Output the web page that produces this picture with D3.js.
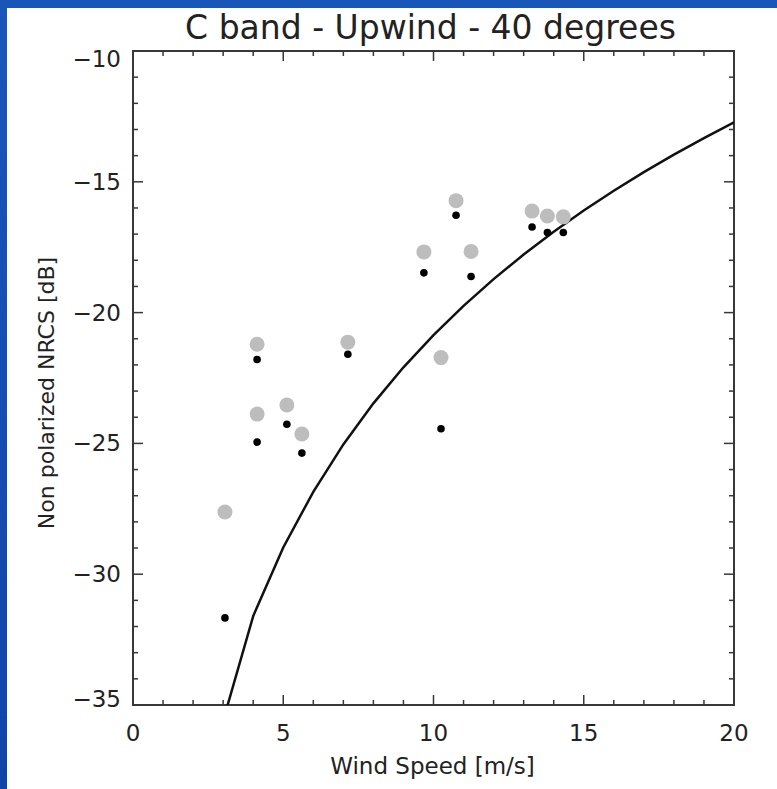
<!DOCTYPE html>
<html><head><meta charset="utf-8">
<script src="https://cdn.jsdelivr.net/npm/d3@7"></script>
<style>
html,body{margin:0;padding:0;background:#fff;}
svg{display:block;}
text{font-family:"DejaVu Sans",sans-serif;fill:#222;}
</style></head><body>
<svg id="c" width="777" height="789"></svg>
<script>
const title = "C band - Upwind - 40 degrees";
const xLabel = "Wind Speed [m/s]";
const yLabel = "Non polarized NRCS [dB]";
const xTicks = [0, 5, 10, 15, 20];
const yTicks = [-10, -15, -20, -25, -30, -35];
// measurements: wind speed, gray (large) value, black (small) value
const windSpeed = [3.06, 4.13, 4.13, 5.12, 5.62, 7.15, 9.68, 10.25, 10.75, 11.25, 13.28, 13.79, 14.32];
const grayNRCS  = [-27.62, -21.21, -23.88, -23.53, -24.64, -21.13, -17.68, -21.72, -15.72, -17.66, -16.12, -16.31, -16.34];
const blackNRCS = [-31.67, -21.79, -24.95, -24.27, -25.37, -21.59, -18.48, -24.44, -16.28, -18.62, -16.73, -16.94, -16.94];
// model curve
const modelSpeed = [3, 4, 5, 6, 7, 8, 9, 10, 11, 12, 13, 14, 15, 16, 17, 18, 19, 20];
const modelNRCS  = [-35.6, -31.6, -28.98, -26.85, -25.04, -23.47, -22.09, -20.86, -19.74, -18.72, -17.78, -16.91, -16.10, -15.34, -14.63, -13.96, -13.33, -12.73];

const svg = d3.select("#c");
const grad = svg.append("defs").append("linearGradient").attr("id","bg").attr("x1",0).attr("y1",0).attr("x2",0).attr("y2",1);
grad.append("stop").attr("offset","0%").attr("stop-color","#1a56b8");
grad.append("stop").attr("offset","100%").attr("stop-color","#1244a8");
svg.append("rect").attr("x",0).attr("y",0).attr("width",777).attr("height",789).attr("fill","url(#bg)");
svg.append("rect").attr("x",7).attr("y",8).attr("width",770).attr("height",781).attr("fill","#fff");

const L = 133, R = 734, T = 51, B = 705;
const x = d3.scaleLinear().domain([0, 20]).range([L, R]);
const y = d3.scaleLinear().domain([-35, -10]).range([B, T]);

const frameColor = "#383838";
const g = svg.append("g");

const xMinor = d3.range(0, 21, 1);
const yMinor = d3.range(-35, -9, 1);
function tickLen(v, step){ return (Math.abs(v % step) < 1e-9) ? 10 : 5; }
g.selectAll(".xtb").data(xMinor).join("line")
  .attr("x1", d=>x(d)).attr("x2", d=>x(d)).attr("y1", B).attr("y2", d=>B - tickLen(d,5))
  .attr("stroke", frameColor).attr("stroke-width", 1.5);
g.selectAll(".xtt").data(xMinor).join("line")
  .attr("x1", d=>x(d)).attr("x2", d=>x(d)).attr("y1", T).attr("y2", d=>T + tickLen(d,5))
  .attr("stroke", frameColor).attr("stroke-width", 1.5);
g.selectAll(".ytl").data(yMinor).join("line")
  .attr("y1", d=>y(d)).attr("y2", d=>y(d)).attr("x1", L).attr("x2", d=>L + tickLen(d,5))
  .attr("stroke", frameColor).attr("stroke-width", 1.5);
g.selectAll(".ytr").data(yMinor).join("line")
  .attr("y1", d=>y(d)).attr("y2", d=>y(d)).attr("x1", R).attr("x2", d=>R - tickLen(d,5))
  .attr("stroke", frameColor).attr("stroke-width", 1.5);

g.append("rect").attr("x", L).attr("y", T).attr("width", R-L).attr("height", B-T)
  .attr("fill","none").attr("stroke", frameColor).attr("stroke-width", 2);

g.selectAll(".xl").data(xTicks).join("text")
  .attr("x", d=>x(d)).attr("y", B + 36).attr("text-anchor","middle")
  .style("font-size","23px").text(d=>d);
g.selectAll(".yl").data(yTicks).join("text")
  .attr("x", L - 12).attr("y", d=>Math.min(Math.max(y(d), T + 8), B - 6) + 8).attr("text-anchor","end")
  .style("font-size","23px").text(d=>"\u2212" + Math.abs(d));

svg.append("clipPath").attr("id","clip").append("rect").attr("x",L).attr("y",T).attr("width",R-L).attr("height",B-T);

const line = d3.line().x((d,i)=>x(modelSpeed[i])).y(d=>y(d));
svg.append("path").datum(modelNRCS).attr("d", line).attr("clip-path","url(#clip)")
  .attr("fill","none").attr("stroke","#111").attr("stroke-width",2.5);

svg.selectAll(".gp").data(grayNRCS).join("circle")
  .attr("cx",(d,i)=>x(windSpeed[i])).attr("cy", d=>y(d)).attr("r", 7.5).attr("fill","#bdbdbd");
svg.selectAll(".bp").data(blackNRCS).join("circle")
  .attr("cx",(d,i)=>x(windSpeed[i])).attr("cy", d=>y(d)).attr("r", 3.8).attr("fill","#000");

svg.append("text").attr("x", (L+R)/2 - 3).attr("y", 39).attr("text-anchor","middle")
  .style("font-size","33px").text(title);
svg.append("text").attr("x", (L+R)/2 - 1).attr("y", 774).attr("text-anchor","middle")
  .style("font-size","23px").text(xLabel);
svg.append("text").attr("transform","translate(54,393) rotate(-90)").attr("text-anchor","middle")
  .style("font-size","22px").text(yLabel);
</script>
</body></html>
